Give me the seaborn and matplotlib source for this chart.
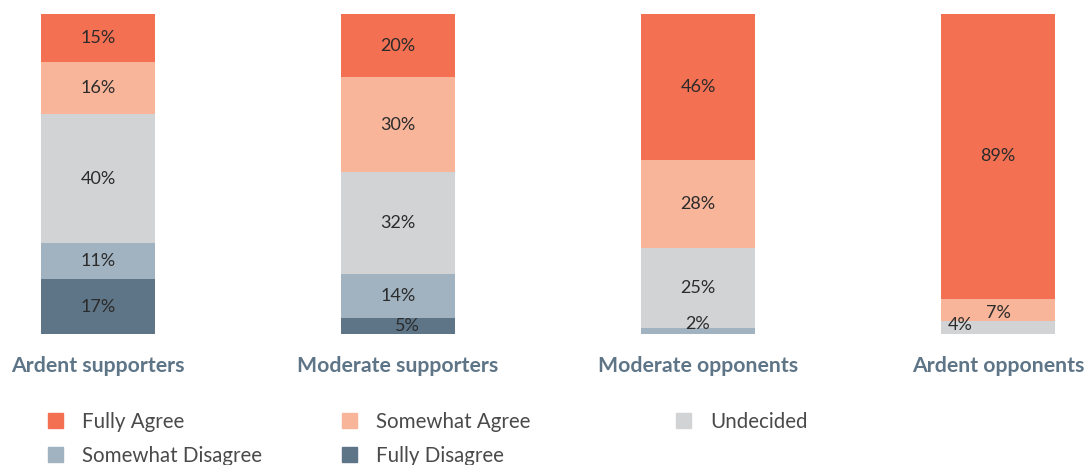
import numpy as np
import matplotlib
matplotlib.use("Agg")
import matplotlib.pyplot as plt
from matplotlib.patches import Rectangle
import seaborn as sns

# ---- data ----
groups = ["Ardent supporters", "Moderate supporters", "Moderate opponents", "Ardent opponents"]
series = ["Fully Agree", "Somewhat Agree", "Undecided", "Somewhat Disagree", "Fully Disagree"]
fully_agree = [15, 20, 46, 89]
somewhat_agree = [16, 30, 28, 7]
undecided = [40, 32, 25, 4]
somewhat_disagree = [11, 14, 2, 0]
fully_disagree = [17, 5, 0, 0]

# ---- style ----
colors = {
    "Fully Agree": "#F37052",
    "Somewhat Agree": "#F9B59A",
    "Undecided": "#D2D3D5",
    "Somewhat Disagree": "#A1B3C1",
    "Fully Disagree": "#5E7587",
}
sns.set_theme(style="white")
plt.rcParams["font.family"] = ["Lato", "DejaVu Sans"]

W, H = 1085, 465
fig = plt.figure(figsize=(W / 100, H / 100), dpi=100)
ax = fig.add_axes([0, 1 - 334 / H, 1, 320 / H])

values = {
    "Fully Agree": np.array(fully_agree, float),
    "Somewhat Agree": np.array(somewhat_agree, float),
    "Undecided": np.array(undecided, float),
    "Somewhat Disagree": np.array(somewhat_disagree, float),
    "Fully Disagree": np.array(fully_disagree, float),
}
totals = sum(values.values())
# stack from bottom: Fully Disagree ... Fully Agree on top; normalise to 100
bottom_order = series[::-1]
tops = {}
run = np.zeros(len(groups))
for s in bottom_order:
    run = run + values[s] / totals * 100
    tops[s] = run.copy()

# draw tallest cumulative bar first so lower layers sit on top
for s in series:
    sns.barplot(x=groups, y=tops[s], color=colors[s], saturation=1,
                width=0.38, ax=ax, linewidth=0)

# value labels
label_adjust = {  # (group idx, series): (dx points, dy points)
    (1, "Fully Disagree"): (7, 0),
    (2, "Somewhat Disagree"): (0, 5),
    (3, "Undecided"): (-27, 2),
    (3, "Somewhat Agree"): (0, -2),
}
for s in series:
    v = values[s]
    for i in range(len(groups)):
        if v[i] <= 0:
            continue
        top = tops[s][i]
        h = v[i] / totals[i] * 100
        yc = top - h / 2
        dx, dy = label_adjust.get((i, s), (0, 0))
        ax.annotate(f"{int(v[i])}%", (i, yc), xytext=(dx, dy),
                    textcoords="offset points", ha="center", va="center",
                    fontsize=13, color="#2b2b2b")

ax.set_ylim(0, 100)
ax.set_xlim(-98 / 300, (W - 98) / 300)
ax.set_yticks([])
ax.set_ylabel("")
ax.tick_params(axis="x", length=0, pad=16)
for lab in ax.get_xticklabels():
    lab.set_fontweight("bold")
    lab.set_fontsize(15.3)
    lab.set_color("#5E7587")
for sp in ax.spines.values():
    sp.set_visible(False)

# legend (manual layout)
legend_pos = {
    "Fully Agree": (48, 413, 82),
    "Somewhat Agree": (342, 413, 376),
    "Undecided": (676, 413, 710),
    "Somewhat Disagree": (48, 447, 82),
    "Fully Disagree": (342, 447, 376),
}
for s, (sx, sy, tx) in legend_pos.items():
    fig.patches.append(Rectangle((sx / W, 1 - (sy + 15) / H), 15 / W, 15 / H,
                                 transform=fig.transFigure, color=colors[s]))
    fig.text(tx / W, 1 - (sy + 9) / H, s, ha="left", va="center",
             fontsize=14.8, color="#4a4a4a")

fig.savefig("out.png", dpi=100)
